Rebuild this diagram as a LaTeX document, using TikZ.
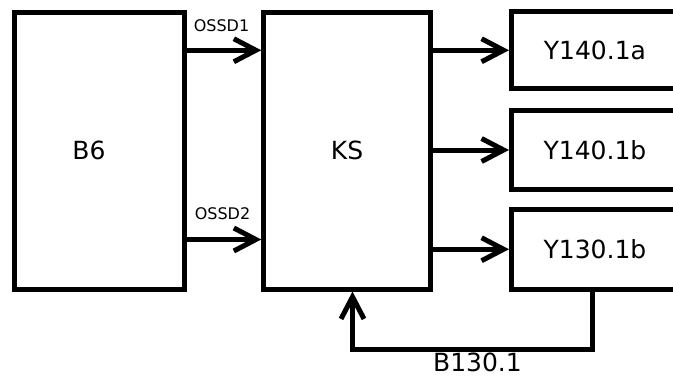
\documentclass[tikz,border=0pt]{standalone}
\usepackage{fontspec}
\setmainfont{DejaVu Sans}
\usetikzlibrary{arrows.meta}
\tikzset{
  >={Straight Barb[length=22pt,width=23pt,line join=miter]},
  block/.style={draw=black,line width=5pt,minimum height=277pt,minimum width=170pt,inner sep=0pt,font=\fontsize{25}{30}\selectfont},
  valve/.style={block,minimum height=77pt,minimum width=167pt},
  sig/.style={->,line width=5pt,line cap=round},
  sigText/.style={font=\fontsize{16}{19}\selectfont},
  fbText/.style={font=\fontsize{25}{30}\selectfont}
}
\begin{document}
\begin{tikzpicture}[x=1pt,y=-1pt]
  \clip (0,0) rectangle (673,383);
  \node[block,label={[font=\fontsize{25}{30}\selectfont,xshift=-10pt]center:B6}] (B6) at (99,150.5) {};
  \node[block,minimum width=166.5pt] (KS) at (347,150.5) {KS};
  \node[valve] (Ya) at (595,50.25) {Y140.1a};
  \node[valve,minimum height=79pt] (Yb) at (595,150) {Y140.1b};
  \node[valve,minimum height=79.5pt] (Yc) at (595,249.25) {Y130.1b};
  \coordinate (o2) at (0,239.5);
  \coordinate (fbR) at (592,349);
  \coordinate (fbL) at (352.5,349);
  \draw[sig] (B6.east |- Ya.west) -- (KS.west |- Ya.west);
  \draw[sig] (B6.east |- o2) -- (KS.west |- o2);
  \node[sigText] (oA) at (221.5,26) {OSSD1};
  \node[sigText] (oB) at (222.5,214) {OSSD2};
  \draw[sig] (KS.east |- Ya.west) -- (Ya.west);
  \draw[sig] (KS.east |- Yb.west) -- (Yb.west);
  \draw[sig] (KS.east |- Yc.west) -- (Yc.west);
  \draw[sig,line cap=butt] (Yc.south -| fbR) -- (fbR) -- (fbL) -- (KS.south -| fbL);
  \node[fbText] (fbLabel) at (477.5,362) {B130.1};
\end{tikzpicture}
\end{document}
